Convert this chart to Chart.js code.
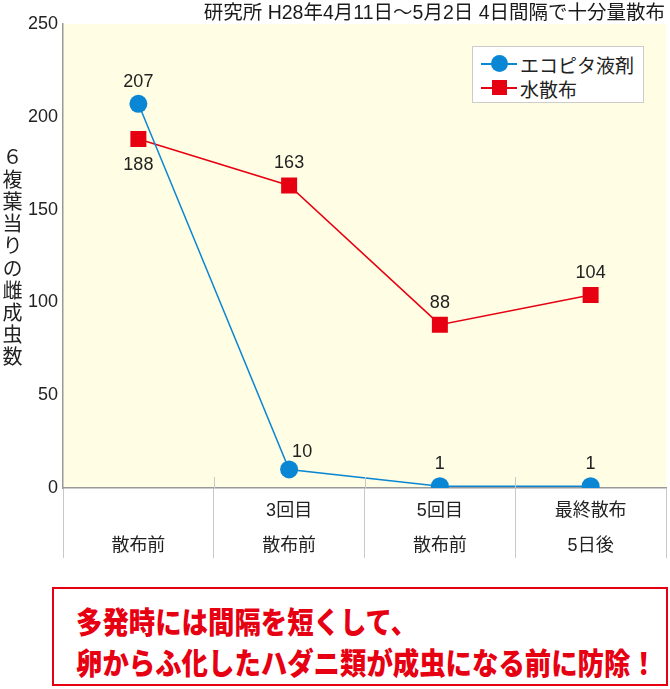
<!DOCTYPE html>
<html><head><meta charset="utf-8">
<script src="https://cdn.jsdelivr.net/npm/chart.js@4.4.1/dist/chart.umd.min.js"></script>
<style>
html,body{margin:0;padding:0;background:#fff;}
#wrap{position:relative;width:670px;height:689px;overflow:hidden;font-family:'Liberation Sans','Noto Sans CJK JP',sans-serif;color:#222;}
#cv{position:absolute;left:0;top:0;}
#title{position:absolute;right:5px;top:2px;font-size:19.5px;line-height:20px;font-family:'Liberation Sans','Noto Sans CJK JP',sans-serif;white-space:nowrap;color:#1a1a1a;}
#ytitle{position:absolute;left:1px;top:147px;writing-mode:vertical-rl;text-orientation:upright;font-size:20px;line-height:22px;letter-spacing:2.2px;font-family:'Noto Sans CJK JP',sans-serif;color:#222;}
#legend{position:absolute;left:472px;top:46px;width:172px;height:57px;box-sizing:border-box;background:#fff;border:1.5px solid #ccc;}
.li{position:absolute;left:8px;height:22px;display:flex;align-items:center;font-size:19px;font-family:'Noto Sans CJK JP',sans-serif;color:#222;}
.sym{position:relative;width:36px;height:20px;margin-right:3px;}
.sym .ln{position:absolute;left:0;right:0;top:9px;height:1.5px;}
.sym .mk{position:absolute;left:10px;top:1px;width:17px;height:17px;}
#note{position:absolute;left:52px;top:587px;width:616px;height:99px;box-sizing:border-box;border:2px solid #e60012;}
#noteText{position:absolute;left:22px;top:11px;color:#e60012;font-family:'Noto Sans CJK JP',sans-serif;font-weight:900;font-size:30px;line-height:41px;white-space:nowrap;transform:scaleX(0.88);transform-origin:left top;}
</style></head>
<body><div id="wrap">
<canvas id="cv" width="670" height="560" style="width:670px;height:560px"></canvas>
<div id="title">研究所 H28年4月11日～5月2日 4日間隔で十分量散布</div>
<div id="ytitle">６複葉当りの雌成虫数</div>
<div id="legend">
 <div class="li" style="top:6px"><div class="sym"><div class="ln" style="background:#0a87d4"></div><div class="mk" style="background:#0a87d4;border-radius:50%"></div></div>エコピタ液剤</div>
 <div class="li" style="top:30px"><div class="sym"><div class="ln" style="background:#e60012"></div><div class="mk" style="background:#e60012;width:15px;height:15px;top:2px;left:11px"></div></div>水散布</div>
</div>
<div id="note"><div id="noteText">多発時には間隔を短くして、<br>卵からふ化したハダニ類が成虫になる前に防除！</div></div>
</div>
<script>
const categories = [["", "散布前"], ["3回目", "散布前"], ["5回目", "散布前"], ["最終散布", "5日後"]];
const seriesNames = ["エコピタ液剤", "水散布"];
const ecopitaValues = [207, 10, 1, 1];
const waterValues = [188, 163, 88, 104];
const yTicks = [0, 50, 100, 150, 200, 250];

const FONT = "'Liberation Sans','Noto Sans CJK JP',sans-serif";
const BLUE = '#0a87d4', RED = '#e60012';

const bgPlugin = {
  id: 'bg',
  beforeDraw(chart) {
    const {ctx, chartArea: a} = chart;
    ctx.save();
    ctx.fillStyle = '#fffde3';
    ctx.fillRect(a.left, a.top, a.right - a.left, a.bottom - a.top);
    ctx.restore();
  },
  afterDraw(chart) {
    const {ctx, chartArea: a} = chart;
    const xs = chart.scales.x;
    const n = xs.ticks.length;
    const bounds = [];
    for (let i = 0; i <= n; i++) bounds.push(xs.getPixelForValue(i - 0.5));
    ctx.save();
    ctx.strokeStyle = '#c8c8c8';
    ctx.lineWidth = 1;
    bounds.slice(1, n).forEach(x => {
      ctx.beginPath();
      ctx.moveTo(Math.round(x) + 0.5, a.bottom - 11);
      ctx.lineTo(Math.round(x) + 0.5, a.bottom);
      ctx.stroke();
    });
    ctx.restore();
  }
};

const labelPlugin = {
  id: 'vlabels',
  afterDatasetsDraw(chart) {
    const {ctx} = chart;
    ctx.save();
    ctx.font = '18px ' + FONT;
    ctx.fillStyle = '#222';
    ctx.textAlign = 'center';
    ctx.textBaseline = 'middle';
    chart.data.datasets.forEach((ds, di) => {
      const meta = chart.getDatasetMeta(di);
      meta.data.forEach((pt, i) => {
        const place = ds.labelPlace[i];
        let dx = 0, dy = -22;
        if (place === 'below') dy = 26;
        if (place === 'aboveRight') { dx = 13; dy = -17; }
        ctx.fillText(String(ds.data[i]), pt.x + dx, pt.y + dy);
      });
    });
    ctx.restore();
  }
};

new Chart(document.getElementById('cv'), {
  type: 'line',
  data: {
    labels: categories,
    datasets: [
      {label: seriesNames[0], data: ecopitaValues, borderColor: BLUE, backgroundColor: BLUE, borderWidth: 1.5,
       pointStyle: 'circle', pointRadius: 9, pointBorderWidth: 0, pointBackgroundColor: BLUE, tension: 0,
       labelPlace: ['above', 'aboveRight', 'above', 'above'], order: 1},
      {label: seriesNames[1], data: waterValues, borderColor: RED, backgroundColor: RED, borderWidth: 1.5,
       pointStyle: 'rect', pointRadius: 11.3, pointBorderWidth: 0, pointBackgroundColor: RED, tension: 0,
       labelPlace: ['below', 'above', 'above', 'above'], order: 2}
    ]
  },
  options: {
    responsive: false,
    animation: false,
    devicePixelRatio: 1,
    layout: {autoPadding: false, padding: {left: 0, right: 4, top: 24, bottom: 2}},
    plugins: {legend: {display: false}, tooltip: {enabled: false}, title: {display: false}},
    scales: {
      x: {
        type: 'category',
        offset: true,
        grid: {offset: true, drawOnChartArea: false, drawTicks: true, tickLength: 70, color: '#c8c8c8', lineWidth: 1},
        border: {color: '#999', width: 1.5},
        ticks: {font: {size: 18, family: FONT, lineHeight: 1.95}, color: '#222', padding: -64.5, maxRotation: 0, autoSkip: false},
        afterFit(s) { s.height = 70; }
      },
      y: {
        min: 0, max: 250,
        afterBuildTicks(s) { s.ticks = yTicks.map(v => ({value: v})); },
        grid: {display: true, drawOnChartArea: false, drawTicks: false},
        border: {color: '#999', width: 1.5},
        ticks: {font: {size: 18, family: FONT}, color: '#222', padding: 5},
        afterFit(s) { s.width = 63; }
      }
    }
  },
  plugins: [bgPlugin, labelPlugin]
});
</script>
</body></html>
